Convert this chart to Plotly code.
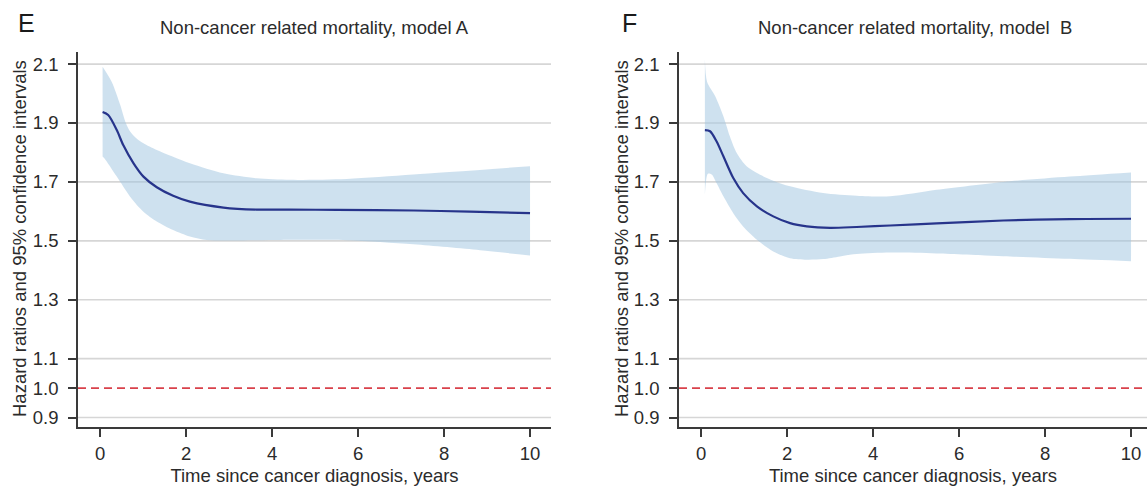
import plotly.graph_objects as go

# ---------------- data ----------------
# Panel E: model A
tA_est = [0.06, 0.19, 0.39, 0.54, 0.78, 1.01, 1.32, 1.70, 2.09, 2.87, 3.64, 4.4, 5.5, 7.3, 8.6, 10.0]
hrA_est = [1.937, 1.927, 1.876, 1.825, 1.763, 1.718, 1.682, 1.653, 1.633, 1.613, 1.606, 1.606, 1.605, 1.603, 1.599, 1.594]
tA_up = [0.06, 0.27, 0.47, 0.60, 0.70, 0.85, 1.01, 1.32, 2.09, 2.87, 3.64, 4.42, 5.74, 7.29, 10.0]
hrA_up = [2.091, 2.040, 1.961, 1.900, 1.871, 1.847, 1.831, 1.808, 1.763, 1.729, 1.712, 1.707, 1.710, 1.725, 1.753]
tA_lo = [0.06, 0.10, 0.39, 0.70, 1.01, 1.32, 1.70, 2.09, 2.48, 2.87, 4.2, 5.74, 7.29, 8.84, 10.0]
hrA_lo = [1.786, 1.780, 1.718, 1.650, 1.599, 1.566, 1.537, 1.515, 1.503, 1.501, 1.503, 1.502, 1.488, 1.468, 1.450]

# Panel F: model B
tB_est = [0.09, 0.21, 0.36, 0.52, 0.75, 0.98, 1.30, 1.68, 2.07, 2.46, 3.0, 3.62, 4.4, 5.48, 7.03, 8.58, 10.0]
hrB_est = [1.876, 1.872, 1.838, 1.787, 1.713, 1.662, 1.617, 1.583, 1.560, 1.549, 1.544, 1.547, 1.552, 1.559, 1.569, 1.574, 1.575]
tB_up = [0.09, 0.14, 0.33, 0.52, 0.67, 0.83, 1.06, 1.30, 1.68, 2.07, 2.84, 3.62, 4.4, 5.48, 7.03, 8.58, 10.0]
hrB_up = [2.116, 2.040, 1.991, 1.923, 1.855, 1.798, 1.753, 1.730, 1.704, 1.685, 1.662, 1.653, 1.651, 1.673, 1.700, 1.718, 1.732]
tB_lo = [0.09, 0.16, 0.25, 0.36, 0.52, 0.75, 0.98, 1.30, 1.68, 2.07, 2.46, 2.84, 3.23, 3.62, 4.4, 5.48, 7.03, 8.58, 10.0]
hrB_lo = [1.657, 1.728, 1.725, 1.696, 1.651, 1.594, 1.549, 1.504, 1.464, 1.441, 1.436, 1.438, 1.447, 1.455, 1.460, 1.457, 1.448, 1.439, 1.431]

y_tickvals = [0.9, 1.0, 1.1, 1.3, 1.5, 1.7, 1.9, 2.1]
y_ticktext = ["0.9", "1.0", "1.1", "1.3", "1.5", "1.7", "1.9", "2.1"]
grid_values = [0.9, 1.1, 1.3, 1.5, 1.7, 1.9, 2.1]
x_tickvals = [0, 2, 4, 6, 8, 10]
ref_hr = 1.0

panel_titles = ["Non-cancer related mortality, model A", "Non-cancer related mortality, model  B"]
panel_letters = ["E", "F"]
x_title = "Time since cancer diagnosis, years"
y_title = "Hazard ratios and 95% confidence intervals"

# ---------------- styling ----------------
W, H = 1147, 492
FONT = "Liberation Sans, Arial, sans-serif"
FS = 18.5
TXT = "#2b2b2b"
BAND = "rgba(158,196,224,0.5)"
LINE = "#27348b"
GRID = "#d6d6d6"
RED = "#d9414b"
AX = "#3a3a3a"

T_M, B_M = 52, 65
plot_h = H - T_M - B_M

fig = go.Figure()

panels = [
    (tA_est, hrA_est, tA_up, hrA_up, tA_lo, hrA_lo, "x", "y"),
    (tB_est, hrB_est, tB_up, hrB_up, tB_lo, hrB_lo, "x2", "y2"),
]
for te, he, tu, hu, tl, hl, xa, ya in panels:
    fig.add_trace(go.Scatter(x=tl, y=hl, mode="lines", line=dict(width=0, shape="spline", smoothing=0.8),
                             xaxis=xa, yaxis=ya, showlegend=False, hoverinfo="skip"))
    fig.add_trace(go.Scatter(x=tu, y=hu, mode="lines", line=dict(width=0, shape="spline", smoothing=0.8),
                             fill="tonexty", fillcolor=BAND,
                             xaxis=xa, yaxis=ya, showlegend=False, hoverinfo="skip"))
    fig.add_trace(go.Scatter(x=te, y=he, mode="lines", line=dict(color=LINE, width=2.2, shape="spline", smoothing=0.8),
                             xaxis=xa, yaxis=ya, showlegend=False))

dom1 = [78 / W, 551 / W]
dom2 = [679 / W, 1.0]
px_per_unit = 43.0
xr1 = [-0.512, -0.512 + (551 - 78) / px_per_unit]
xr2 = [-0.512, -0.512 + (W - 679) / px_per_unit]
yr = [0.868, 2.141]

axis_common_x = dict(
    tickmode="array", tickvals=x_tickvals, ticks="outside", ticklen=8, tickwidth=1.5, tickcolor=AX,
    showline=True, linecolor=AX, linewidth=1.5, showgrid=False, zeroline=False,
    tickfont=dict(family=FONT, size=FS, color=TXT), ticklabelstandoff=1,
    title=dict(text=x_title, font=dict(family=FONT, size=FS, color=TXT), standoff=6),
    automargin=False,
)
axis_common_y = dict(
    tickmode="array", tickvals=y_tickvals, ticktext=y_ticktext, ticks="outside", ticklen=8, tickwidth=1.5,
    tickcolor=AX, showline=True, linecolor=AX, linewidth=1.5, showgrid=False, zeroline=False,
    tickfont=dict(family=FONT, size=FS, color=TXT), range=yr, ticklabelstandoff=6,
    automargin=False,
)

fig.update_layout(
    width=W, height=H, margin=dict(l=0, r=0, t=T_M, b=B_M),
    paper_bgcolor="white", plot_bgcolor="white",
    xaxis=dict(domain=dom1, range=xr1, anchor="y", **axis_common_x),
    yaxis=dict(domain=[0, 1], anchor="x", **axis_common_y),
    xaxis2=dict(domain=dom2, range=xr2, anchor="y2", **axis_common_x),
    yaxis2=dict(domain=[0, 1], anchor="x2", **axis_common_y),
)

# grid lines and reference line
for xd, yd in [("x", "y"), ("x2", "y2")]:
    for gv in grid_values:
        fig.add_shape(type="line", xref=f"{xd} domain", yref=yd, x0=0, x1=1, y0=gv, y1=gv,
                      line=dict(color=GRID, width=1.6), layer="below")
    fig.add_shape(type="line", xref=f"{xd} domain", yref=yd, x0=0, x1=1, y0=ref_hr, y1=ref_hr,
                  line=dict(color=RED, width=1.6, dash="8px,5px"), layer="above")

def py(pix):
    return (H - B_M - pix) / plot_h

centers = [314, 915]
letter_x = [16, 620]
ytitle_x = [19, 621]
for i in range(2):
    fig.add_annotation(text=panel_titles[i], x=centers[i] / W, y=py(27), xref="paper", yref="paper",
                       xanchor="center", yanchor="middle", showarrow=False,
                       font=dict(family=FONT, size=FS, color=TXT))
    fig.add_annotation(text=panel_letters[i], x=letter_x[i] / W, y=py(23), xref="paper", yref="paper",
                       xanchor="left", yanchor="middle", showarrow=False,
                       font=dict(family=FONT, size=25, color="#1a1a1a"))
    fig.add_annotation(text=y_title, x=ytitle_x[i] / W, y=py(239), xref="paper", yref="paper",
                       xanchor="center", yanchor="middle", showarrow=False, textangle=-90,
                       font=dict(family=FONT, size=FS, color=TXT))

fig.write_html("out.html")
